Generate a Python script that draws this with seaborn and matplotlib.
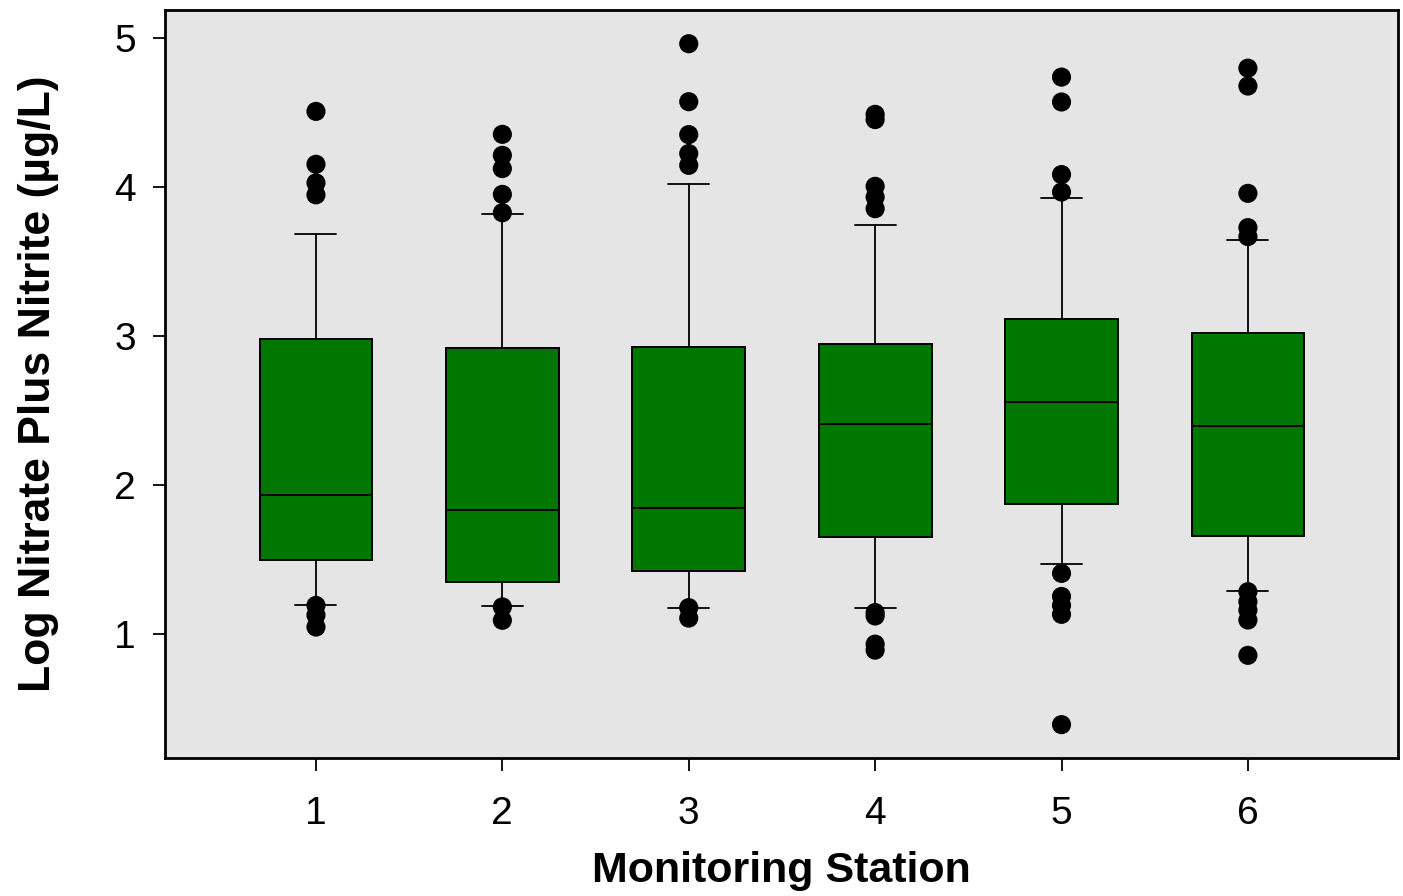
import matplotlib
matplotlib.use("Agg")
import matplotlib.pyplot as plt
import seaborn as sns
import pandas as pd

# box statistics, one entry per monitoring station
stations = [1, 2, 3, 4, 5, 6]
q1 = [1.50, 1.35, 1.425, 1.653, 1.873, 1.66]
medians = [1.935, 1.837, 1.846, 2.41, 2.56, 2.40]
q3 = [2.98, 2.92, 2.93, 2.95, 3.115, 3.02]
whisker_lo = [1.20, 1.19, 1.18, 1.18, 1.475, 1.29]
whisker_hi = [3.69, 3.82, 4.02, 3.75, 3.93, 3.65]

# outlying points per station
fliers_1 = [4.51, 4.155, 4.03, 3.95, 1.195, 1.13, 1.05]
fliers_2 = [4.356, 4.215, 4.126, 3.953, 3.83, 1.185, 1.095]
fliers_3 = [4.964, 4.575, 4.354, 4.227, 4.148, 1.18, 1.11]
fliers_4 = [4.49, 4.455, 4.007, 3.935, 3.857, 1.147, 1.124, 0.935, 0.895]
fliers_5 = [4.74, 4.573, 4.086, 3.969, 1.41, 1.255, 1.195, 1.135, 0.395]
fliers_6 = [4.80, 4.68, 3.96, 3.73, 3.67, 1.287, 1.22, 1.164, 1.097, 0.86]

y_ticks = [1, 2, 3, 4, 5]

sns.set_style("ticks", {"axes.facecolor": "#e5e5e5", "axes.edgecolor": "black",
                        "text.color": "black", "axes.labelcolor": "black",
                        "xtick.color": "black", "ytick.color": "black"})
plt.rcParams['font.family'] = ['Liberation Sans', 'DejaVu Sans']

fig = plt.figure(figsize=(14.03, 8.96), dpi=100)
ax = fig.add_axes([0.1176, 0.154, 0.8788, 0.8348])

stats = []
for i, s in enumerate(stations):
    stats.append({
        'label': str(s),
        'q1': q1[i], 'med': medians[i], 'q3': q3[i],
        'whislo': whisker_lo[i], 'whishi': whisker_hi[i],
        'fliers': [],
    })

ax.bxp(
    stats, positions=stations, widths=0.605, capwidths=0.22,
    showfliers=False, patch_artist=True,
    boxprops=dict(facecolor='#007800', edgecolor='black', linewidth=1.4),
    medianprops=dict(color='black', linewidth=1.4),
    whiskerprops=dict(color='black', linewidth=1.3),
    capprops=dict(color='black', linewidth=1.3),
)

all_fliers = [fliers_1, fliers_2, fliers_3, fliers_4, fliers_5, fliers_6]
df_fl = pd.DataFrame({
    'station': [s for s, fl in zip(stations, all_fliers) for _ in fl],
    'value': [v for fl in all_fliers for v in fl],
})
sns.scatterplot(data=df_fl, x='station', y='value', color='black',
                s=190, edgecolor='none', ax=ax, zorder=4)

ax.set_xlim(0.19, 6.805)
ax.set_ylim(0.171, 5.19)
ax.set_xticks(stations)
ax.set_xticklabels([str(s) for s in stations])
ax.set_yticks(y_ticks)
ax.set_yticklabels([str(t) for t in y_ticks])

for sp in ax.spines.values():
    sp.set_visible(True)
    sp.set_linewidth(2.0)
    sp.set_color('black')

ax.tick_params(axis='both', direction='out', length=9, width=1.3, labelsize=28,
               colors='black')
ax.tick_params(axis='x', pad=18)
ax.tick_params(axis='y', pad=12)

ax.set_xlabel("Monitoring Station", fontsize=31, fontweight='bold', labelpad=14,
              color='black')
ax.set_ylabel("Log Nitrate Plus Nitrite (µg/L)", fontsize=32, fontweight='bold',
              labelpad=40, color='black')

fig.savefig("out.png", dpi=100)
plt.close(fig)
